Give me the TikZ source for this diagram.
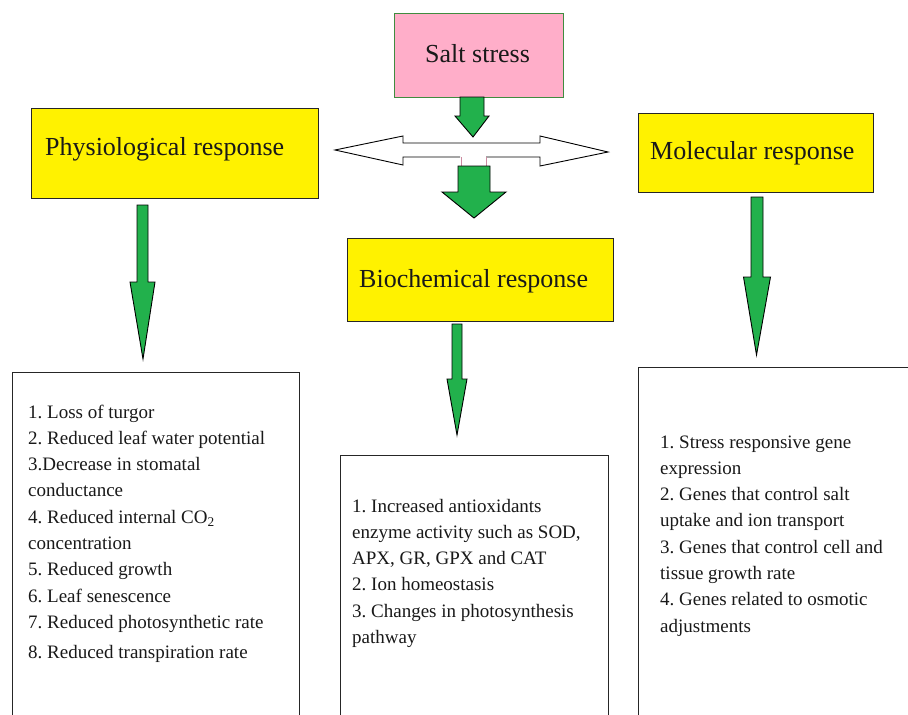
\documentclass[tikz,border=0pt]{standalone}
\usepackage{fontspec}
\setmainfont{Liberation Serif}
\usetikzlibrary{calc}
\frenchspacing
\definecolor{pgreen}{HTML}{22B14C}
\definecolor{pyellow}{HTML}{FFF200}
\definecolor{ppink}{HTML}{FFAEC9}
\newcommand\lline[1]{\hbox{#1}}
\newcommand\blockarrow[5]{%
  \filldraw[garrow] let \p1=(#1), \p2=(#2) in
    (\x1-#3pt,\y1) -- (\x1+#3pt,\y1) -- (\x1+#3pt,\y2+#5pt) -- (\x1+#4pt,\y2+#5pt)
    -- (\x2,\y2) -- (\x1-#4pt,\y2+#5pt) -- (\x1-#3pt,\y2+#5pt) -- cycle;}
\tikzset{
  headbox/.style={draw=black!85, line width=1pt, fill=pyellow, rectangle, anchor=north west, inner sep=0pt},
  saltbox/.style={draw=black!40!green!50!gray, line width=0.8pt, fill=ppink, rectangle, anchor=north west, inner sep=0pt},
  listbox/.style={draw=black!85, line width=1pt, fill=white, rectangle, anchor=north west, inner sep=0pt},
  htext/.style={anchor=base west, inner sep=0pt, text=black!90, font=\fontsize{26}{30}\selectfont},
  ltext/.style={anchor=base west, inner sep=0pt, text=black!90, font=\fontsize{19}{26.3}\selectfont\frenchspacing},
  garrow/.style={fill=pgreen, draw=black, line width=0.9pt, line join=miter},
}
\begin{document}
\begin{tikzpicture}[x=1pt,y=-1pt]
\clip (0,0) rectangle (908,715);
\fill[white] (0,0) rectangle (908,715);

% boxes
\node[saltbox, minimum width=169pt, minimum height=84pt] (salt) at (394,13) {};
\node[headbox, minimum width=287pt, minimum height=90pt] (phys) at (31,108) {};
\node[headbox, minimum width=266pt, minimum height=83pt] (bio) at (347,238) {};
\node[headbox, minimum width=235pt, minimum height=79pt] (mol) at (638,113) {};
\node[listbox, minimum width=287pt, minimum height=400pt] (plist) at (12,372) {};
\node[listbox, minimum width=268pt, minimum height=300pt] (blist) at (340,455) {};
\node[listbox, minimum width=300pt, minimum height=400pt] (mlist) at (638,367) {};

% headings
\node[htext] (saltT) at (425,62) {Salt stress};
\node[htext] (physT) at (45,155) {Physiological response};
\node[htext] (bioT) at (359,287) {Biochemical response};
\node[htext] (molT) at (650,159) {Molecular response};

% lists
\node[ltext] (plistT) at (28,418) {\vtop{%
  \lline{1. Loss of turgor}
  \lline{2. Reduced leaf water potential}
  \lline{3.Decrease in stomatal}
  \lline{conductance}
  \lline{4. Reduced internal CO\textsubscript{2}}
  \lline{concentration}
  \lline{5. Reduced growth}
  \lline{6. Leaf senescence}
  \lline{7. Reduced photosynthetic rate}
  \vskip 4pt
  \lline{8. Reduced transpiration rate}}};
\node[ltext] (blistT) at (352,512) {\vtop{%
  \lline{1. Increased antioxidants}
  \lline{enzyme activity such as SOD,}
  \lline{APX, GR, GPX and CAT}
  \lline{2. Ion homeostasis}
  \lline{3. Changes in photosynthesis}
  \lline{pathway}}};
\node[ltext] (mlistT) at (660,448) {\vtop{%
  \lline{1. Stress responsive gene}
  \lline{expression}
  \lline{2. Genes that control salt}
  \lline{uptake and ion transport}
  \lline{3. Genes that control cell and}
  \lline{tissue growth rate}
  \lline{4. Genes related to osmotic}
  \lline{adjustments}}};

% double arrow
\fill[white] (335,150) -- (403,136) -- (403,143) -- (540,143) -- (540,136) -- (608,152)
  -- (540,166) -- (540,157) -- (403,157) -- (403,165) -- cycle;
\draw[line width=0.9pt, line join=miter] (460,157) -- (403,157) -- (403,165) -- (335,150)
  -- (403,136) -- (403,143) -- (540,143) -- (540,136) -- (608,152) -- (540,166)
  -- (540,157) -- (486,157);
\draw[black!20!ppink, line width=0.6pt] (461,157) -- (461,167) (486,157) -- (486,167);

% green arrows
\coordinate (a1s) at (472,97);   \coordinate (a1e) at (473,137);
\coordinate (a2s) at (474,166);  \coordinate (a2e) at (474,218);
\coordinate (a3s) at (142.5,205);\coordinate (a3e) at (143,359);
\coordinate (a4s) at (457,324);  \coordinate (a4e) at (457,435);
\coordinate (a5s) at (757,197);  \coordinate (a5e) at (756.5,355);
\blockarrow{a1s}{a1e}{12}{17}{21}
\blockarrow{a2s}{a2e}{16}{32}{26}
\blockarrow{a3s}{a3e}{5.5}{12.5}{77}
\blockarrow{a4s}{a4e}{5}{10}{56}
\blockarrow{a5s}{a5e}{6}{13.5}{78}
\end{tikzpicture}
\end{document}
